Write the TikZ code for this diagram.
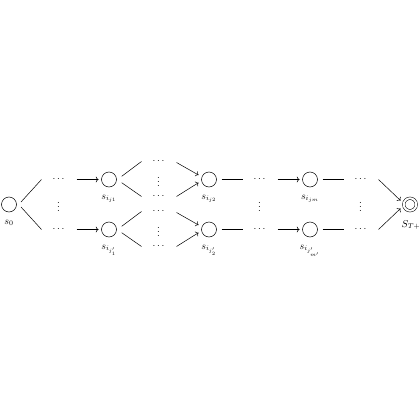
\documentclass[tikz,border=0pt]{standalone}
\usetikzlibrary{arrows.meta}
\begin{document}
\begin{tikzpicture}[x=1pt,y=-1pt,
  st/.style={circle,draw,minimum size=15pt,inner sep=0pt,line width=0.5pt},
  fin/.style={circle,draw,minimum size=12.5pt,inner sep=0pt,line width=0.5pt,double,double distance=2pt},
  lab/.style={anchor=base,inner sep=0pt},
  dt/.style={inner sep=0pt},
  ln/.style={line width=0.5pt},
  ar/.style={line width=0.5pt,->}]
\useasboundingbox (0,0) rectangle (420,420);
% states
\node[st] (s0) at (9,204.5) {};
\node[lab] (ls0) at (9,224) {$s_0$};
\node[st] (a1) at (109,179.5) {};
\node[lab] (la1) at (109,199) {$s_{i_{j1}}$};
\node[st] (b1) at (109,229.5) {};
\node[lab] (lb1) at (109,249) {$s_{i_{j'_1}}$};
\node[st] (a2) at (209,179.5) {};
\node[lab] (la2) at (209,199) {$s_{i_{j2}}$};
\node[st] (b2) at (209,229.5) {};
\node[lab] (lb2) at (209,249) {$s_{i_{j'_2}}$};
\node[st] (a3) at (310,179.5) {};
\node[lab] (la3) at (310,199) {$s_{i_{jm}}$};
\node[st] (b3) at (310,229.5) {};
\node[lab] (lb3) at (310,249) {$s_{i_{j'_{m'}}}$};
\node[fin] (f) at (410,204.5) {};
\node[lab] (lf) at (411,227) {$S_{T+}$};
% dots
\node[dt] (c1u) at (58.5,179.5) {$\cdots$};
\node[dt] (c1v) at (58.5,204) {$\vdots$};
\node[dt] (c1l) at (58.5,229.5) {$\cdots$};
\node[dt] (c2a) at (158.5,161.5) {$\cdots$};
\node[dt] (c2b) at (158.5,179) {$\vdots$};
\node[dt] (c2c) at (158.5,196.5) {$\cdots$};
\node[dt] (c2d) at (158.5,211.5) {$\cdots$};
\node[dt] (c2e) at (158.5,228.5) {$\vdots$};
\node[dt] (c2f) at (158.5,246.5) {$\cdots$};
\node[dt] (c3u) at (259.5,179.5) {$\cdots$};
\node[dt] (c3v) at (259.5,204) {$\vdots$};
\node[dt] (c3l) at (259.5,229.5) {$\cdots$};
\node[dt] (c4u) at (360.5,179.5) {$\cdots$};
\node[dt] (c4v) at (360.5,204) {$\vdots$};
\node[dt] (c4l) at (360.5,229.5) {$\cdots$};
% connectors
\draw[ln] ([shift={(12,-2.5)}]s0.center) -- ([shift={(-17,0)}]c1u.center);
\draw[ln] ([shift={(12,2.5)}]s0.center) -- ([shift={(-17,0)}]c1l.center);
\draw[ar] ([shift={(18,0)}]c1u.center) -- ([shift={(-10.5,0)}]a1.center);
\draw[ar] ([shift={(18,0)}]c1l.center) -- ([shift={(-10.5,0)}]b1.center);
\draw[ln] ([shift={(12.7,-3.2)}]a1.center) -- ([shift={(-17,0)}]c2a.center);
\draw[ln] ([shift={(12.7,3.2)}]a1.center) -- ([shift={(-17,0)}]c2c.center);
\draw[ln] ([shift={(12.7,-3.2)}]b1.center) -- ([shift={(-17,0)}]c2d.center);
\draw[ln] ([shift={(12.7,3.2)}]b1.center) -- ([shift={(-17,0)}]c2f.center);
\draw[ar] ([shift={(18,1)}]c2a.center) -- ([shift={(-10.5,-4.5)}]a2.center);
\draw[ar] ([shift={(18,0)}]c2c.center) -- ([shift={(-10.5,3.2)}]a2.center);
\draw[ar] ([shift={(18,1)}]c2d.center) -- ([shift={(-10.5,-4.5)}]b2.center);
\draw[ar] ([shift={(18,0)}]c2f.center) -- ([shift={(-10.5,3.2)}]b2.center);
\draw[ln] ([shift={(12.7,0)}]a2.center) -- ([shift={(-17,0)}]c3u.center);
\draw[ln] ([shift={(12.7,0)}]b2.center) -- ([shift={(-17,0)}]c3l.center);
\draw[ar] ([shift={(18,0)}]c3u.center) -- ([shift={(-10.5,0)}]a3.center);
\draw[ar] ([shift={(18,0)}]c3l.center) -- ([shift={(-10.5,0)}]b3.center);
\draw[ln] ([shift={(12.7,0)}]a3.center) -- ([shift={(-17,0)}]c4u.center);
\draw[ln] ([shift={(12.7,0)}]b3.center) -- ([shift={(-17,0)}]c4l.center);
\draw[ar] ([shift={(18,0)}]c4u.center) -- ([shift={(-9.5,-4)}]f.center);
\draw[ar] ([shift={(18,0)}]c4l.center) -- ([shift={(-9.5,4)}]f.center);
\end{tikzpicture}
\end{document}
